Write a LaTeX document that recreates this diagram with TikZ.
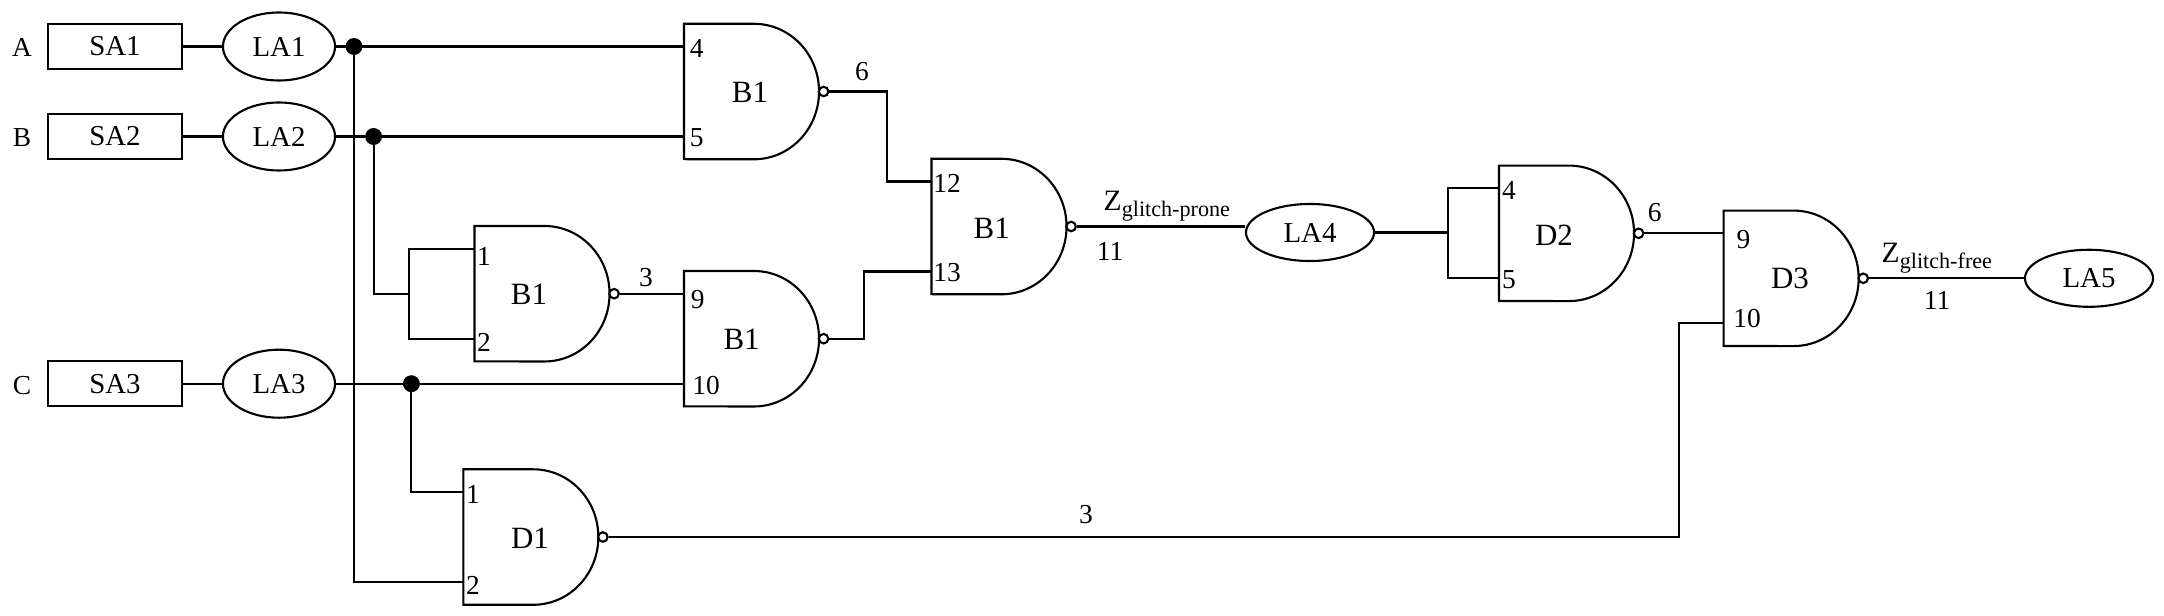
\documentclass[tikz,border=0pt]{standalone}
\usepackage{fontspec}
\setmainfont{Liberation Serif}
\usetikzlibrary{shapes.geometric}
\providecommand{\gatesize}{67.7}

% gate outline, its two inputs and its output bubble: name, left x, centre y
\providecommand{\nandgate}[3]{%
    \draw[wire] (#2, #3-\gatesize) -- (#2+70, #3-\gatesize) arc[start angle=90, end angle=-90, x radius=0.65cm, y radius=0.677cm] -- (#2, #3+\gatesize) -- cycle;
    \coordinate (#1a) at (#2, #3-45);
    \coordinate (#1b) at (#2, #3+45);
    \node[bubble] (#1o) at (#2+139.6, #3) {};
}

\begin{document}
\begin{tikzpicture}[
    x=0.01cm, y=-0.01cm,
    wire/.style={line width=0.6pt, draw=black},
    srcbox/.style={rectangle, draw=black, line width=0.6pt, fill=white, minimum width=1.34cm, minimum height=0.45cm, inner sep=0pt, font=\fontsize{8.2}{10}\selectfont},
    lablob/.style={ellipse, draw=black, line width=0.6pt, fill=white, minimum width=1.12cm, minimum height=0.68cm, inner sep=0pt, font=\fontsize{8.2}{10}\selectfont},
    labwide/.style={lablob, minimum width=1.28cm, minimum height=0.57cm},
    jdot/.style={circle, draw=black, fill=black, minimum size=0.155cm, inner sep=0pt},
    bubble/.style={circle, draw=black, line width=0.6pt, fill=white, minimum size=0.095cm, inner sep=0pt},
    gatename/.style={inner sep=0pt, font=\fontsize{8.8}{10}\selectfont},
    pinnum/.style={inner sep=0pt, font=\fontsize{7.8}{9}\selectfont},
    subtxt/.style={inner sep=0pt, anchor=base west, font=\fontsize{8.4}{10}\selectfont}
]
\useasboundingbox (0,0) rectangle (2164,616);

    % ==================== SOURCES ====================
    \node[pinnum] (ina) at (22, 47) {A};
    \node[pinnum] (inb) at (22, 138) {B};
    \node[pinnum] (inc) at (22, 386) {C};

    \node[srcbox] (sa1) at (115, 46.5) {SA1};
    \node[srcbox] (sa2) at (115, 136.5) {SA2};
    \node[srcbox] (sa3) at (115, 383.7) {SA3};

    \node[lablob] (la1) at (279, 46.5) {LA1};
    \node[lablob] (la2) at (279, 136.5) {LA2};
    \node[lablob] (la3) at (279, 383.7) {LA3};

    % Junctions
    \node[jdot] (dota) at (354, 46.5) {};
    \node[jdot] (dotb) at (373.6, 136.5) {};
    \node[jdot] (dotc) at (411.4, 383.7) {};

    % ==================== GATES ====================
    \nandgate{gone}{684}{91.5}
    \nandgate{gtwo}{474.5}{293.7}
    \nandgate{gthree}{684}{338.7}
    \nandgate{gfour}{931.5}{226.5}
    \nandgate{gfive}{1499}{233.3}
    \nandgate{gsix}{1723.6}{278.3}
    \nandgate{gseven}{463.3}{537}

    \node[gatename] (nameone) at (750, 92) {B1};
    \node[gatename] (nametwo) at (529, 294) {B1};
    \node[gatename] (namethree) at (741.6, 339) {B1};
    \node[gatename] (namefour) at (991.7, 228) {B1};
    \node[gatename] (namefive) at (1554, 235) {D2};
    \node[gatename] (namesix) at (1790, 278) {D3};
    \node[gatename] (nameseven) at (530, 538) {D1};

    % Pin numbers
    \node[pinnum] (pinone) at (696.7, 48) {4};
    \node[pinnum] (pintwo) at (696.7, 138) {5};
    \node[pinnum] (pinthree) at (484, 256) {1};
    \node[pinnum] (pinfour) at (484, 342) {2};
    \node[pinnum] (pinfive) at (697.7, 300) {9};
    \node[pinnum] (pinsix) at (706, 386) {10};
    \node[pinnum] (pinseven) at (947, 183) {12};
    \node[pinnum] (pineight) at (947, 273) {13};
    \node[pinnum] (pinnine) at (1509, 190) {4};
    \node[pinnum] (pinten) at (1509, 280) {5};
    \node[pinnum] (pineleven) at (1743.5, 240) {9};
    \node[pinnum] (pintwelve) at (1747, 319) {10};
    \node[pinnum] (pinthirteen) at (473, 494) {1};
    \node[pinnum] (pinfourteen) at (473, 585) {2};

    % ==================== OUTPUTS ====================
    \node[labwide] (la4) at (1310, 232.5) {LA4};
    \node[labwide] (la5) at (2089, 278.3) {LA5};

    \node[subtxt] (zprone) at (1103, 210.7) {Z\raisebox{-0.06cm}{\fontsize{6.3}{8}\selectfont glitch-prone}};
    \node[subtxt] (zfree) at (1881, 263) {Z\raisebox{-0.06cm}{\fontsize{6.3}{8}\selectfont glitch-free}};

    \node[pinnum] (numone) at (862, 72) {6};
    \node[pinnum] (numtwo) at (646, 278) {3};
    \node[pinnum] (numthree) at (1110, 251) {11};
    \node[pinnum] (numfour) at (1654.6, 213) {6};
    \node[pinnum] (numfive) at (1937, 300) {11};
    \node[pinnum] (numsix) at (1086, 515) {3};

    % Elbows and the tied inputs
    \coordinate (kneea) at (887.4, 130);
    \coordinate (kneeb) at (863.8, 300);
    \coordinate (kneec) at (1679, 430);
    \coordinate (tiea) at (408.7, 293.7);
    \coordinate (tieb) at (1448.4, 232.5);

    % ==================== WIRES ====================
    \draw[wire] (sa1) -- (la1);
    \draw[wire] (sa2) -- (la2);
    \draw[wire] (sa3) -- (la3);
    \draw[wire] (la1) -- (dota) -- (gonea);
    \draw[wire] (la2) -- (dotb) -- (goneb);
    \draw[wire] (la3) -- (dotc) -- (gthreeb);
    \draw[wire] (dota) |- (gsevenb);
    \draw[wire] (dotb) |- (tiea);
    \draw[wire] (dotc) |- (gsevena);
    \draw[wire] (gtwoa) -| (tiea) |- (gtwob);
    \draw[wire] (gtwoo) -- (gthreea);
    \draw[wire] (goneo) -| (kneea) |- (gfoura);
    \draw[wire] (gthreeo) -| (kneeb) |- (gfourb);
    \draw[wire] (gfouro) -- (gfouro -| la4.west);
    \draw[wire] (la4.east) -- (tieb);
    \draw[wire] (gfivea) -| (tieb) |- (gfiveb);
    \draw[wire] (gfiveo) -- (gsixa);
    \draw[wire] (gsixo) -- (la5);
    \draw[wire] (gseveno) -| (kneec) |- (gsixb);

\end{tikzpicture}
\end{document}
